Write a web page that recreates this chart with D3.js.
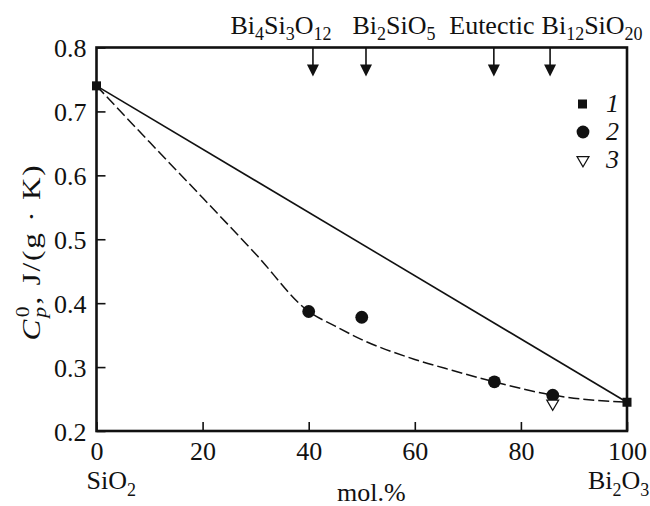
<!DOCTYPE html>
<html>
<head>
<meta charset="utf-8">
<script src="https://cdn.jsdelivr.net/npm/d3@7"></script>
<style>
  body { margin: 0; background: #fff; }
  svg { display: block; }
</style>
</head>
<body>
<script>
// composition axis (mol.% Bi2O3) and heat capacity axis
var xTicks = [0, 20, 40, 60, 80, 100];
var yTicks = [0.2, 0.3, 0.4, 0.5, 0.6, 0.7, 0.8];

// 1: pure oxides (additive line)
var pureX = [0, 100];
var pureCp = [0.74, 0.245];
// 2: glasses
var glassX = [40, 50, 75, 86];
var glassCp = [0.387, 0.378, 0.277, 0.256];
// 3: crystal
var crystX = [86];
var crystCp = [0.243];
// dashed trend
var fitX = [0, 10, 20, 30, 40, 45, 50, 60, 67, 75, 86, 100];
var fitCp = [0.74, 0.652, 0.565, 0.477, 0.387, 0.364, 0.343, 0.312, 0.295, 0.277, 0.256, 0.245];

// phase markers on top
var markX = [40.8, 50.8, 74.9, 85.5];
var markLabels = ["Bi4Si3O12", "Bi2SiO5", "Eutectic", "Bi12SiO20"];
var markShift = [-32, 28, -2, 42];   // label offsets from arrow (layout)

var legendLabels = ["1", "2", "3"];

var FONT = "'Liberation Serif', 'Times New Roman', serif";
var W = 650, H = 506;
var margin = {top: 47.5, right: 23, bottom: 75, left: 96.5};

var svg = d3.select("body").append("svg")
    .attr("width", W).attr("height", H)
    .attr("font-family", FONT);

var x = d3.scaleLinear().domain([0, 100]).range([margin.left, W - margin.right]);
var y = d3.scaleLinear().domain([0.2, 0.8]).range([H - margin.bottom, margin.top]);

// write chemical formulae with subscript digits
function formula(sel, str, big, small, drop) {
    str.split(/(\d+)/).filter(function(s) { return s.length; }).forEach(function(s) {
        var isNum = /^\d+$/.test(s);
        sel.append("tspan")
           .attr("font-size", isNum ? small : big)
           .attr("baseline-shift", isNum ? -drop : 0)
           .text(s);
    });
}

// axes, ticks inward
var xAxis = d3.axisBottom(x).tickValues(xTicks).tickSize(-9).tickPadding(11).tickFormat(d3.format("d"));
var yAxis = d3.axisLeft(y).tickValues(yTicks).tickSize(-9).tickPadding(10).tickFormat(d3.format(".1f"));

var xg = svg.append("g").attr("transform", "translate(0," + y(0.2) + ")").call(xAxis);
var yg = svg.append("g").attr("transform", "translate(" + x(0) + ",0)").call(yAxis);
[xg, yg].forEach(function(g) {
    g.attr("font-family", FONT);
    g.select(".domain").remove();
    g.selectAll("line").attr("stroke", "#111").attr("stroke-width", 1.6);
    g.selectAll("text").attr("font-size", 26).attr("fill", "#111");
});
xg.selectAll("text").attr("dy", "0.71em");
yg.selectAll("text").attr("dy", "0.36em");

// frame
svg.append("rect")
   .attr("x", x(0)).attr("y", y(0.8))
   .attr("width", x(100) - x(0)).attr("height", y(0.2) - y(0.8))
   .attr("fill", "none").attr("stroke", "#111").attr("stroke-width", 2.6);

// end-member labels + axis title
var sio2 = svg.append("text").attr("x", x(0) - 10).attr("y", 489).attr("fill", "#111");
formula(sio2, "SiO2", 26, 18, 7);
var bi2o3 = svg.append("text").attr("x", x(100) - 39).attr("y", 489).attr("fill", "#111");
formula(bi2o3, "Bi2O3", 26, 18, 7);

svg.append("text").attr("x", x(51.8)).attr("y", 501)
   .attr("text-anchor", "middle").attr("font-size", 26).attr("fill", "#111")
   .text("mol.%");

var yt = svg.append("text")
   .attr("transform", "translate(40,252) rotate(-90) scale(1.2,1)")
   .attr("text-anchor", "middle").attr("fill", "#111").attr("font-size", 26)
   .attr("letter-spacing", 1.5);
yt.append("tspan").attr("font-style", "italic").text("C");
yt.append("tspan").attr("font-style", "italic").attr("font-size", 18).attr("dy", 6).text("p");
yt.append("tspan").attr("font-size", 18).attr("dx", -10).attr("dy", -17).text("0");
yt.append("tspan").attr("dy", 11).text(", J/(g \u00b7 K)");

// lines
var line = d3.line().x(function(d) { return x(d[0]); }).y(function(d) { return y(d[1]); });

svg.append("path")
   .datum(pureX.map(function(v, i) { return [v, pureCp[i]]; }))
   .attr("d", line).attr("fill", "none").attr("stroke", "#111").attr("stroke-width", 1.6);

svg.append("path")
   .datum(fitX.map(function(v, i) { return [v, fitCp[i]]; }))
   .attr("d", line.curve(d3.curveMonotoneX))
   .attr("fill", "none").attr("stroke", "#111").attr("stroke-width", 1.5)
   .attr("stroke-dasharray", "11,4");

// markers
svg.append("g").selectAll("rect").data(pureX).enter().append("rect")
   .attr("x", function(d) { return x(d) - 4.5; })
   .attr("y", function(d, i) { return y(pureCp[i]) - 4.5; })
   .attr("width", 9).attr("height", 9).attr("fill", "#111");

svg.append("g").selectAll("circle").data(glassX).enter().append("circle")
   .attr("cx", function(d) { return x(d); })
   .attr("cy", function(d, i) { return y(glassCp[i]); })
   .attr("r", 6.4).attr("fill", "#111");

var tri = d3.symbol().type(d3.symbolTriangle).size(62);
svg.append("g").selectAll("path").data(crystX).enter().append("path")
   .attr("d", tri)
   .attr("transform", function(d, i) { return "translate(" + x(d) + "," + y(crystCp[i]) + ") rotate(180)"; })
   .attr("fill", "#fff").attr("stroke", "#111").attr("stroke-width", 1.2);

// phase arrows and labels
var yTop = y(0.8);
var arrows = svg.append("g");
markX.forEach(function(v, i) {
    var px = x(v);
    arrows.append("line").attr("x1", px).attr("x2", px)
          .attr("y1", yTop).attr("y2", yTop + 20)
          .attr("stroke", "#111").attr("stroke-width", 1.6);
    arrows.append("path")
          .attr("d", "M" + (px - 6) + "," + (yTop + 17) + "L" + (px + 6) + "," + (yTop + 17) + "L" + px + "," + (yTop + 29) + "Z")
          .attr("fill", "#111");
    var t = arrows.append("text").attr("x", px + markShift[i]).attr("y", 34)
          .attr("text-anchor", "middle").attr("fill", "#111");
    formula(t, markLabels[i], 26, 18, 6);
});

// legend
var lg = svg.append("g");
var lgY = [104, 132, 160];
lg.append("rect").attr("x", 578).attr("y", lgY[0] - 4.5).attr("width", 9).attr("height", 9).attr("fill", "#111");
lg.append("circle").attr("cx", 583).attr("cy", lgY[1]).attr("r", 6.4).attr("fill", "#111");
lg.append("path").attr("d", tri)
  .attr("transform", "translate(583," + lgY[2] + ") rotate(180)")
  .attr("fill", "#fff").attr("stroke", "#111").attr("stroke-width", 1.2);
lg.selectAll("text").data(legendLabels).enter().append("text")
  .attr("x", 606).attr("y", function(d, i) { return lgY[i] + 8; })
  .attr("font-size", 26).attr("font-style", "italic").attr("fill", "#111")
  .text(function(d) { return d; });
</script>
</body>
</html>
